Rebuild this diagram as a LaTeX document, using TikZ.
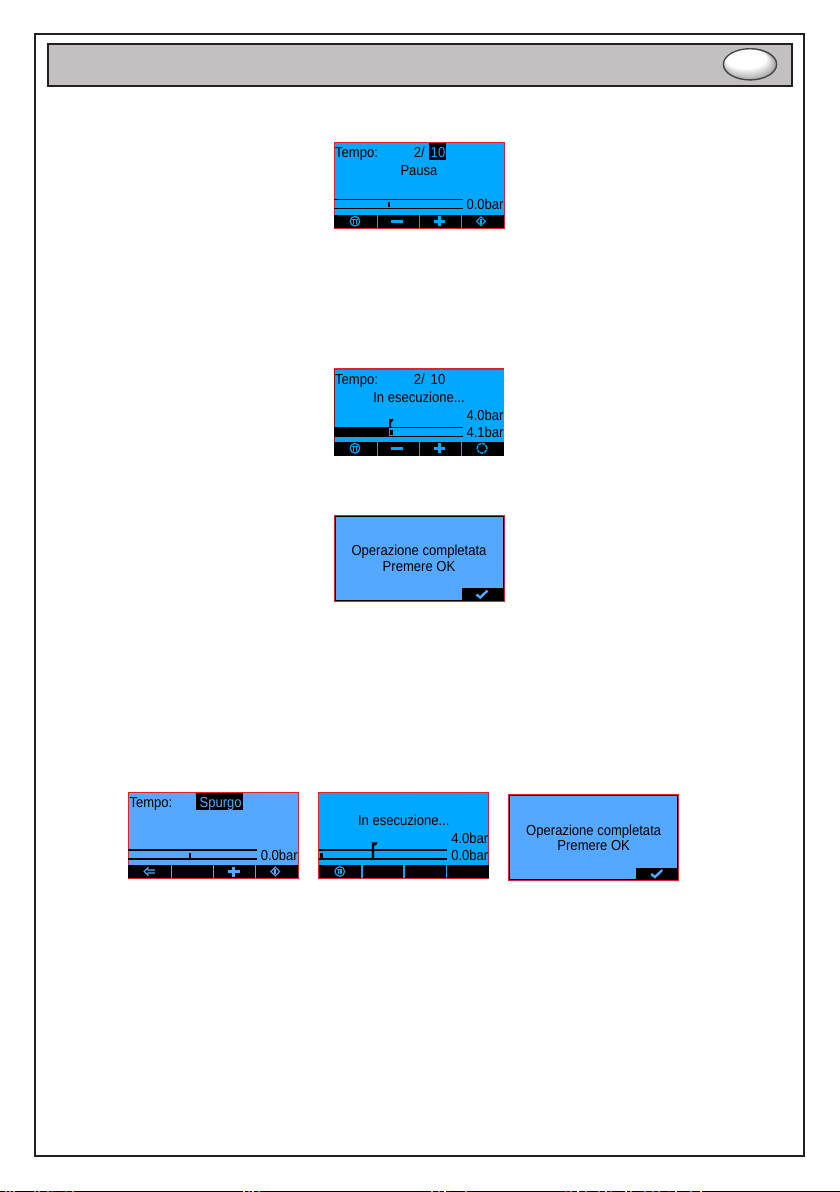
\documentclass[tikz,border=0pt]{standalone}
\usepackage{fontspec}
\setmainfont{Liberation Sans}
\newfontfamily\lcdfont[FakeStretch=0.9]{Liberation Sans}
\definecolor{lcdA}{HTML}{00A8FF}
\definecolor{lcdB}{HTML}{55A8FF}
\definecolor{framecol}{HTML}{231F20}
\definecolor{headgray}{HTML}{C2C0C0}
\definecolor{lcdred}{HTML}{E0202A}
\tikzset{
  frameline/.style={draw=framecol,line width=2.2pt},
  lcdtext/.style={inner sep=0pt,font=\lcdfont\fontsize{14.5}{16}\selectfont,text=black,anchor=base},
  lcdtextr/.style={lcdtext,anchor=base east},
  lcdtextl/.style={lcdtext,anchor=base west},
  lcdline/.style={draw=black,line width=1.3pt},
}
\newcommand{\softcells}[1]{%
  \fill[black] (0,73) rectangle (170,85.5);
  \foreach \sx in {42.5,84.5,126.7}{\fill[#1] (\sx,73) rectangle (\sx+1.2,85.5);}
}
\newcommand{\iconstop}[2]{%
  \draw[#2,line width=1.2pt] (#1,79.2) circle (4.8pt);
  \draw[#2,line width=1.1pt] (#1-2.6,77.4) -- (#1+2.6,77.4) (#1-1.2,77.6) -- (#1-1.2,82) (#1+1.2,77.6) -- (#1+1.2,82);
}
\newcommand{\iconminus}[2]{\fill[#2] (#1-5.7,77.8) rectangle (#1+5.7,80.8);}
\newcommand{\iconplus}[2]{\fill[#2] (#1-5.7,77.8) rectangle (#1+5.7,80.8);\fill[#2] (#1-1.4,74.2) rectangle (#1+1.4,84.4);}
\newcommand{\icondiamond}[2]{%
  \draw[#2,line width=1.1pt] (#1,74.8) -- (#1+4.4,79.2) -- (#1,83.6) -- (#1-4.4,79.2) -- cycle;
  \fill[#2] (#1-.9,77) rectangle (#1+.9,81.5);
}
\newcommand{\iconround}[2]{\draw[#2,line width=1.3pt,dash pattern=on 3.4pt off .8pt] (#1,79.2) circle (5pt);}
\newcommand{\iconback}[2]{%
  \draw[#2,line width=1.1pt] (#1+5.5,77.7) -- (#1-2,77.7) (#1+5.5,80.7) -- (#1-2,80.7) (#1-.8,75) -- (#1-5.2,79.2) -- (#1-.8,83.4);
}
\newcommand{\iconcheck}[1]{\draw[draw=lcdB,line width=2.4pt] (#1-5.5,79.5) -- (#1-1.8,82.5) -- (#1+5.5,75.6);}
\newcommand{\lcdpanel}[1]{%
  \fill[#1] (0,0) rectangle (170,86);
  \draw[lcdred,line width=.9pt] (0,0) rectangle (170,86);
}
\newcommand{\lcdbar}{\draw[lcdline] (0,57.7) -- (128.5,57.7) (0,66.7) -- (128.5,66.7);}
\begin{document}
\begin{tikzpicture}[x=1pt,y=-1pt]
\useasboundingbox (0,0) rectangle (840,1192);
\fill[white] (0,0) rectangle (840,1192);
% scan strip at the foot of the page
\fill[black] (0,1191) rectangle (840,1192);
\foreach \px/\pc in {5/red!60,9/cyan,13/yellow!70!black,34/magenta!70,38/gray,47/cyan,51/violet,65/green!50!black,72/orange,243/yellow,248/blue!60,252/pink,258/cyan,431/orange!60,438/cyan,444/white,447/blue,465/green,652/cyan,658/gray,668/violet,675/pink,690/cyan,700/yellow,565/magenta,570/gray,577/white,585/cyan,598/cyan,605/pink,610/magenta,625/yellow!60,630/orange,644/cyan}
  {\fill[\pc] (\px,1191) rectangle (\px+1.5,1192);}
% page frame
\draw[frameline] (35,34) rectangle (804,1156);
% header
\draw[frameline,fill=headgray] (48,44) rectangle (792,86);
% header button: stacked ellipses fade from grey rim to white highlight
\begin{scope}
\clip (750,64.3) ellipse (27pt and 16pt);
\fill[black!35] (720,45) rectangle (780,85);
\foreach \st in {0,1,...,12}{
  \pgfmathsetmacro{\bx}{749.5-0.3*\st}
  \pgfmathsetmacro{\by}{65-0.5*\st}
  \pgfmathsetmacro{\rx}{26.5-0.45*\st}
  \pgfmathsetmacro{\ry}{16-0.48*\st}
  \pgfmathsetmacro{\wh}{35-(35*\st/12)}
  \fill[black!\wh!white] (\bx,\by) ellipse ({\rx pt} and {\ry pt});
}
\end{scope}
\draw[black!72,line width=1.4pt] (750,64.3) ellipse (26.6pt and 15.6pt);

% === screen 1 ===
\begin{scope}[shift={(334,142)}]
\lcdpanel{lcdA}
\fill[black] (95,1) rectangle (112,17.8);
\node[lcdtextl] (s1tempo) at (1,15.3) {Tempo:};
\node[lcdtextr] (s1cnt) at (91,15.3) {2/};
\node[lcdtext,text=lcdA] (s1max) at (104,15.3) {10};
\node[lcdtext] (s1msg) at (85,33.4) {Pausa};
\lcdbar
\fill[black] (54,60.2) rectangle (56,65.2);
\node[lcdtextr] (s1bar) at (169.7,67.7) {0.0bar};
\softcells{lcdA}
\iconstop{21}{lcdA}\iconminus{63}{lcdA}\iconplus{105.5}{lcdA}\icondiamond{147}{lcdA}
\end{scope}

% === screen 2 ===
\begin{scope}[shift={(334,369)}]
\fill[lcdA] (0,0) rectangle (170,87);
\draw[lcdred,line width=1.6pt] (0,0) -- (170,0);
\draw[lcdred!60!black,line width=.6pt] (0,0) -- (0,87);
\node[lcdtextl] (s2tempo) at (1,15.3) {Tempo:};
\node[lcdtextr] (s2cnt) at (91,15.3) {2/};
\node[lcdtext] (s2max) at (104,15.3) {10};
\node[lcdtext] (s2msg) at (85,33.4) {In esecuzione...};
\node[lcdtextr] (s2set) at (169.7,51) {4.0bar};
\draw[lcdline] (0,58.3) -- (128.5,58.3) (0,67.3) -- (128.5,67.3);
\fill[black] (0,58.3) rectangle (55,67.8);
\fill[black] (55,50) -- (59.5,50) -- (58,53) -- (57,53) -- (57,58) -- (55,58) -- cycle;
\fill[black] (56.2,60.8) rectangle (59,65.8);
\node[lcdtextr] (s2bar) at (169.7,68.2) {4.1bar};
\fill[black] (0,73) rectangle (170,87);
\foreach \sx in {42.5,84.5,126.7}{\fill[lcdA] (\sx,73) rectangle (\sx+1.2,87);}
\iconstop{21}{lcdA}\iconminus{63}{lcdA}\iconplus{105.5}{lcdA}\iconround{148}{lcdA}
\end{scope}

% === screen 3 ===
\begin{scope}[shift={(334,515)}]
\lcdpanel{lcdB}
\draw[black,line width=.7pt] (1,1) rectangle (169,85);
\node[lcdtext] (s3l1) at (85,40.5) {Operazione completata};
\node[lcdtext] (s3l2) at (85,56) {Premere OK};
\fill[black] (128,73) rectangle (169.5,85.5);
\iconcheck{148}
\end{scope}

% === screen 4 ===
\begin{scope}[shift={(128.3,792.3)}]
\lcdpanel{lcdB}
\fill[black] (68,1) rectangle (114.7,18);
\node[lcdtextl] (s4tempo) at (1,15.3) {Tempo:};
\node[lcdtext,text=lcdB] (s4val) at (92.3,15.3) {Spurgo};
\lcdbar
\fill[black] (61,60.2) rectangle (63,65.2);
\node[lcdtextr] (s4bar) at (169.7,67.7) {0.0bar};
\softcells{lcdB}
\iconback{21}{lcdB}\iconplus{105.5}{lcdB}\icondiamond{147}{lcdB}
\end{scope}

% === screen 5 ===
\begin{scope}[shift={(318.8,792.3)}]
\lcdpanel{lcdA}
\node[lcdtext] (s5msg) at (85,33.4) {In esecuzione...};
\node[lcdtextr] (s5set) at (169.7,51) {4.0bar};
\lcdbar
\fill[black] (.8,60.2) rectangle (4,65.2);
\fill[black] (53,50) -- (59,50) -- (57.3,53) -- (55.2,53) -- (55.2,67) -- (53,67) -- cycle;
\node[lcdtextr] (s5bar) at (169.7,67.7) {0.0bar};
\softcells{lcdA}
\iconstop{21}{lcdA}
\end{scope}

% === screen 6 ===
\begin{scope}[shift={(508.7,794.5)}]
\lcdpanel{lcdB}
\draw[black,line width=.7pt] (1,1) rectangle (169,85);
\node[lcdtext] (s6l1) at (85,40.5) {Operazione completata};
\node[lcdtext] (s6l2) at (85,56) {Premere OK};
\fill[black] (127,73) rectangle (169.5,85.5);
\iconcheck{148}
\end{scope}
\end{tikzpicture}
\end{document}
